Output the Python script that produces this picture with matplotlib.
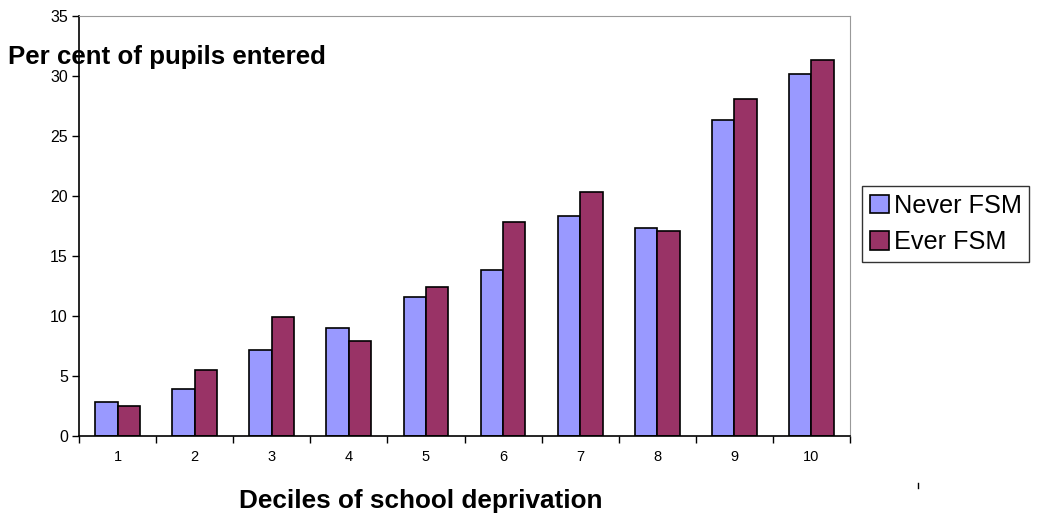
import matplotlib.pyplot as plt
import numpy as np

plt.rcParams['font.family'] = ['Liberation Sans', 'DejaVu Sans']

deciles = ['1', '2', '3', '4', '5', '6', '7', '8', '9', '10']
never_fsm = [2.8, 3.9, 7.2, 9.0, 11.6, 13.8, 18.3, 17.3, 26.3, 30.2]
ever_fsm = [2.5, 5.5, 9.9, 7.9, 12.4, 17.8, 20.3, 17.1, 28.1, 31.3]

fig = plt.figure(figsize=(10.42, 5.15), dpi=100)
ax = fig.add_axes([79/1042, 1-436/515, 771/1042, 420/515])

x = np.arange(len(deciles))
w = 0.29
ax.bar(x - w/2, never_fsm, w, color='#9999FF', edgecolor='black', linewidth=1.2, label='Never FSM')
ax.bar(x + w/2, ever_fsm, w, color='#993366', edgecolor='black', linewidth=1.2, label='Ever FSM')

ax.set_xlim(-0.5, len(deciles) - 0.5)
ax.set_ylim(0, 35)
ax.set_yticks(range(0, 36, 5))
ax.set_xticks(x)
ax.set_xticklabels(deciles)
# ticks sit between categories, labels under the middle
ax.set_xticks(np.arange(-0.5, len(deciles)), minor=True)
ax.tick_params(axis='x', which='major', length=0, labelsize=10.5, pad=10)
ax.tick_params(axis='x', which='minor', length=5, width=1, direction='out')
ax.tick_params(axis='y', length=5, width=1, direction='out', labelsize=11.5, pad=3)

ax.spines['left'].set_color('black')
ax.spines['bottom'].set_color('black')
ax.spines['left'].set_linewidth(1.2)
ax.spines['bottom'].set_linewidth(1.2)
ax.spines['top'].set_color('#999999')
ax.spines['right'].set_color('#999999')

fig.text(8/1042, 1-64/515, 'Per cent of pupils entered', fontsize=18.6, fontweight='bold', va='baseline', ha='left')
fig.text(421/1042, 1-508/515, 'Deciles of school deprivation', fontsize=18.8, fontweight='bold', va='baseline', ha='center')

leg = fig.legend(loc='upper left', bbox_to_anchor=(862/1042, 1-186/515), fontsize=18.2,
                 frameon=True, fancybox=False, handlelength=0.75, handleheight=0.75,
                 handletextpad=0.2, borderpad=0.3, labelspacing=0.5, borderaxespad=0)
leg.get_frame().set_edgecolor('black')
leg.get_frame().set_linewidth(1.0)

# stray mark in the original at the lower right
fig.add_artist(plt.Line2D([918/1042, 918/1042], [1-488/515, 1-483/515], color='black', linewidth=1))

fig.savefig('out.png', dpi=100)
